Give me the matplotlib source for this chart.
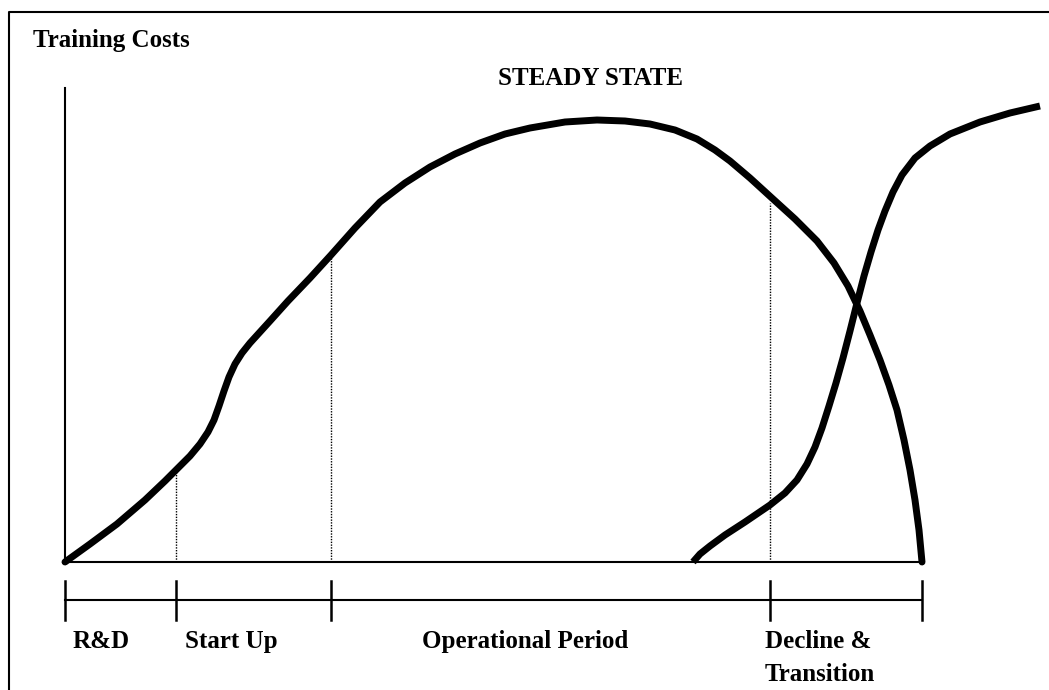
import matplotlib.pyplot as plt

# curva de costos de entrenamiento (altura sobre la linea base)
costo_x = [65, 90, 117, 145, 165, 177, 190, 200, 208, 214, 219, 224, 229, 235, 242, 250, 260, 270,
           288, 310, 331, 355, 380, 405, 430, 455, 480, 505, 530, 565, 597, 625, 650, 675, 697,
           715, 730, 750, 773, 795, 817, 834, 848, 860, 870, 880, 889, 897, 904, 910, 915, 919, 922]
costo_y = [0, 18, 38, 62, 81, 93, 106, 118, 130, 142, 156, 171, 185, 198, 209, 219, 230, 241,
           261, 284, 307, 334, 360, 379, 395, 408, 419, 428, 434, 440, 442, 441, 438, 432, 423,
           412, 401, 384, 363, 343, 321, 299, 276, 251, 227, 202, 177, 152, 122, 92, 62, 32, 0]

# curva del nuevo sistema (transicion)
nuevo_x = [693, 700, 710, 725, 745, 770, 785, 797, 807, 815, 822, 829, 836, 843, 850, 857, 864,
           871, 878, 885, 893, 902, 915, 930, 950, 980, 1010, 1040]
nuevo_y = [0, 8, 16, 27, 40, 57, 69, 82, 98, 115, 134, 156, 179, 204, 231, 259, 286, 310, 332,
           351, 370, 387, 404, 416, 428, 440, 449, 456]

# limites de las fases y altura de la curva en cada una
fases_x = [65, 176, 331, 770, 922]
lineas_x = [176, 331, 770]
lineas_y = [90, 305, 359]
etiquetas = ["R&D", "Start Up", "Operational Period", "Decline &"]
etiquetas_x = [73, 185, 422, 765]

fuente = dict(family="Liberation Serif", weight="bold", fontsize=18, color="black")

fig = plt.figure(figsize=(10.49, 6.9), dpi=100)
ax = fig.add_axes([0, 0, 1, 1])
ax.set_xlim(0, 1049)
ax.set_ylim(-128, 562)
ax.axis("off")

# marco
ax.plot([9, 9, 1049], [-130, 550, 550], color="black", lw=1.5)

# ejes
ax.plot([65, 65], [0, 474], color="black", lw=1.5)
ax.plot([65, 922], [0, 0], color="black", lw=1.5)

# lineas punteadas de cada fase
for x, y in zip(lineas_x, lineas_y):
    ax.plot([x, x], [0, y], color="black", lw=1, linestyle=(0, (1, 1)))

# curvas
ax.plot(costo_x, costo_y, color="black", lw=5, solid_joinstyle="round", solid_capstyle="round")
ax.plot(nuevo_x, nuevo_y, color="black", lw=5, solid_joinstyle="round", solid_capstyle="butt")

# linea de tiempo
ax.plot([fases_x[0], fases_x[-1]], [-38, -38], color="black", lw=1.5)
for x in fases_x:
    ax.plot([x, x], [-19, -58], color="black", lw=1.8)

for texto, x in zip(etiquetas, etiquetas_x):
    ax.text(x, -86, texto, ha="left", va="baseline", **fuente)
ax.text(765, -119, "Transition", ha="left", va="baseline", **fuente)

ax.text(33, 515, "Training Costs", ha="left", va="baseline", **fuente)
ax.text(590, 477, "STEADY STATE", ha="center", va="baseline", **fuente)

plt.savefig("out.png", dpi=100)
